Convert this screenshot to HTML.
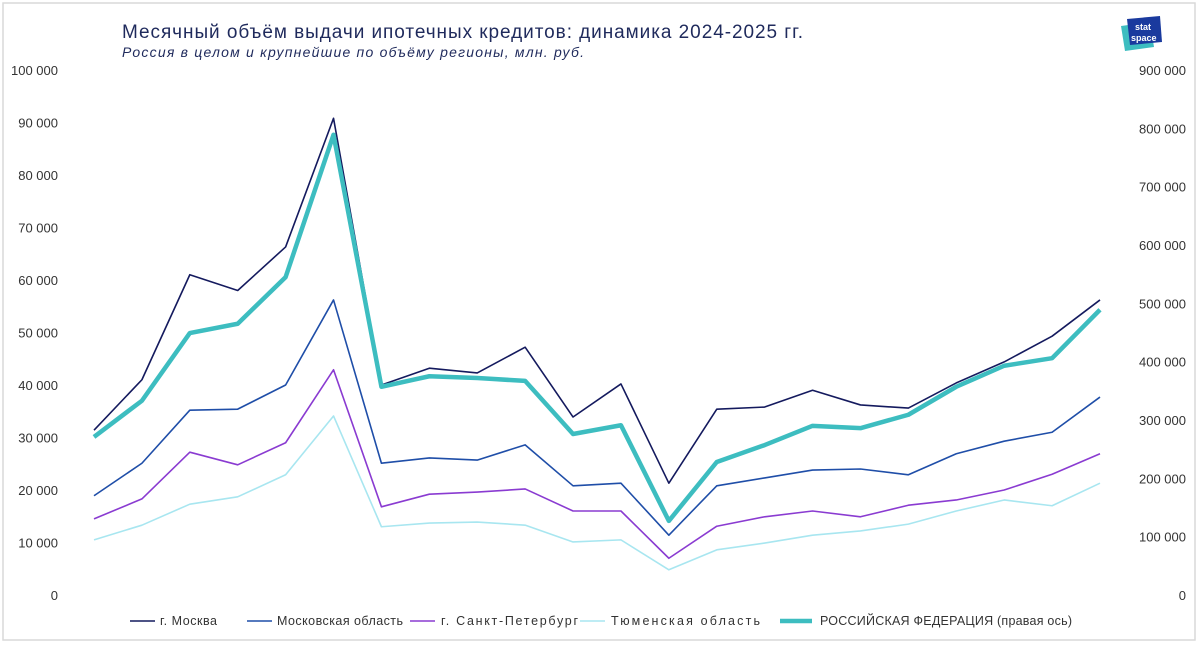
<!DOCTYPE html>
<html><head><meta charset="utf-8"><style>
body{margin:0;background:#fff;font-family:"Liberation Sans","Noto Sans CJK SC",sans-serif;}
svg text{font-family:"Liberation Sans","Noto Sans CJK SC",sans-serif;}
</style></head><body>
<svg id="chart" width="1200" height="645">
<rect x="3" y="3" width="1192" height="637" fill="#fff" stroke="#d9d9d9" stroke-width="1.5"/>
<text x="122" y="38" font-size="19" fill="#1f2a5c" textLength="681" lengthAdjust="spacing">Месячный объём выдачи ипотечных кредитов: динамика 2024-2025 гг.</text>
<text x="122" y="57" font-size="14" font-style="italic" fill="#1f2a5c" textLength="462" lengthAdjust="spacing">Россия в целом и крупнейшие по объёму регионы, млн. руб.</text>
<g>
<path d="M1121 26 L1150 22 L1154 47 L1125 51 Z" fill="#3dbdc0"/>
<path d="M1127 19 L1160 16 L1162 42 L1130 45 Z" fill="#1a3a9e"/>
<text x="1135" y="30" font-size="9" font-weight="bold" fill="#fff">stat</text>
<text x="1131" y="41" font-size="9" font-weight="bold" fill="#fff">space</text>
</g>
<g id="axes"></g><g id="series"></g><g id="legend"></g>
</svg>
<script>
const categories=["1","2","3","4","5","6","7","8","9","10","11","12","13","14","15","16","17","18","19","20","21","22"];
const moscow=[31.4,41,61,58,66.3,90.8,40,43.2,42.3,47.2,33.9,40.2,21.3,35.4,35.8,39,36.2,35.6,40.4,44.4,49.3,56.2];
const moscowObl=[18.9,25.1,35.2,35.4,40,56.2,25.1,26.1,25.7,28.6,20.8,21.3,11.4,20.8,22.3,23.8,24,22.9,26.9,29.3,31,37.7];
const spb=[14.5,18.3,27.2,24.8,29,42.9,16.8,19.2,19.6,20.2,16,16,7,13.1,14.9,16,14.9,17.1,18.1,20,23,26.9];
const tyumen=[10.5,13.3,17.3,18.7,22.9,34.1,13,13.7,13.9,13.3,10.1,10.5,4.8,8.6,9.9,11.4,12.2,13.5,16,18.1,17,21.3];
const russia=[271,333,449,465,545,789,357,375,372,367,276,291,127,228,257,290,286,309,357,393,406,489];
const leftTicks=[0,10000,20000,30000,40000,50000,60000,70000,80000,90000,100000];
const rightTicks=[0,100000,200000,300000,400000,500000,600000,700000,800000,900000];
const NS="http://www.w3.org/2000/svg";
const x0=94,x1=1100,yTop=70,yBot=595;
const xs=i=>x0+(x1-x0)*i/(categories.length-1);
const yL=v=>yBot-(yBot-yTop)*v/100000;
const yR=v=>yBot-(yBot-yTop)*v/900000;
const fmt=v=>v.toString().replace(/\B(?=(\d{3})+(?!\d))/g," ");
function mk(tag,attrs,parent){const e=document.createElementNS(NS,tag);for(const k in attrs)e.setAttribute(k,attrs[k]);parent.appendChild(e);return e;}
const axes=document.getElementById('axes');
leftTicks.forEach(t=>{const e=mk('text',{x:58,y:yL(t)+5,'font-size':13,fill:'#333','text-anchor':'end'},axes);e.textContent=fmt(t);

});
rightTicks.forEach(t=>{const e=mk('text',{x:1186,y:yR(t)+5,'font-size':13,fill:'#333','text-anchor':'end'},axes);e.textContent=fmt(t);

});
const series=[
{name:'г. Москва',data:moscow,color:'#141a5e',w:1.6,f:v=>yL(v*1000),key:'moscow'},
{name:'Московская область',data:moscowObl,color:'#1f4ea8',w:1.6,f:v=>yL(v*1000),key:'moscow-oblast'},
{name:'г. Санкт-Петербург',data:spb,color:'#8a3bd1',w:1.6,f:v=>yL(v*1000),key:'spb'},
{name:'Тюменская область',data:tyumen,color:'#a8e6f0',w:1.6,f:v=>yL(v*1000),key:'tyumen'},
{name:'РОССИЙСКАЯ ФЕДЕРАЦИЯ (правая ось)',data:russia,color:'#3dbdc0',w:4.5,f:v=>yR(v*1000),key:'russia'}];
const sg=document.getElementById('series');
series.forEach(s=>{const p=mk('polyline',{points:s.data.map((v,i)=>xs(i)+','+s.f(v)).join(' '),fill:'none',stroke:s.color,'stroke-width':s.w,'stroke-linejoin':'round'},sg);

});
const lg=document.getElementById('legend');
const lx=[130,247,410,580,780];
const lw=[25,25,25,25,32];
const tx=[160,277,441,611,820];
const tl=[57,126,137,149,252];
series.forEach((s,i)=>{const g=mk('g',{},lg);


mk('line',{x1:lx[i],x2:lx[i]+lw[i],y1:621,y2:621,stroke:s.color,'stroke-width':s.w},g);
const t=mk('text',{x:tx[i],y:625,'font-size':12.5,fill:'#333',textLength:tl[i],lengthAdjust:'spacing'},g);t.textContent=s.name;});
</script>
</body></html>
